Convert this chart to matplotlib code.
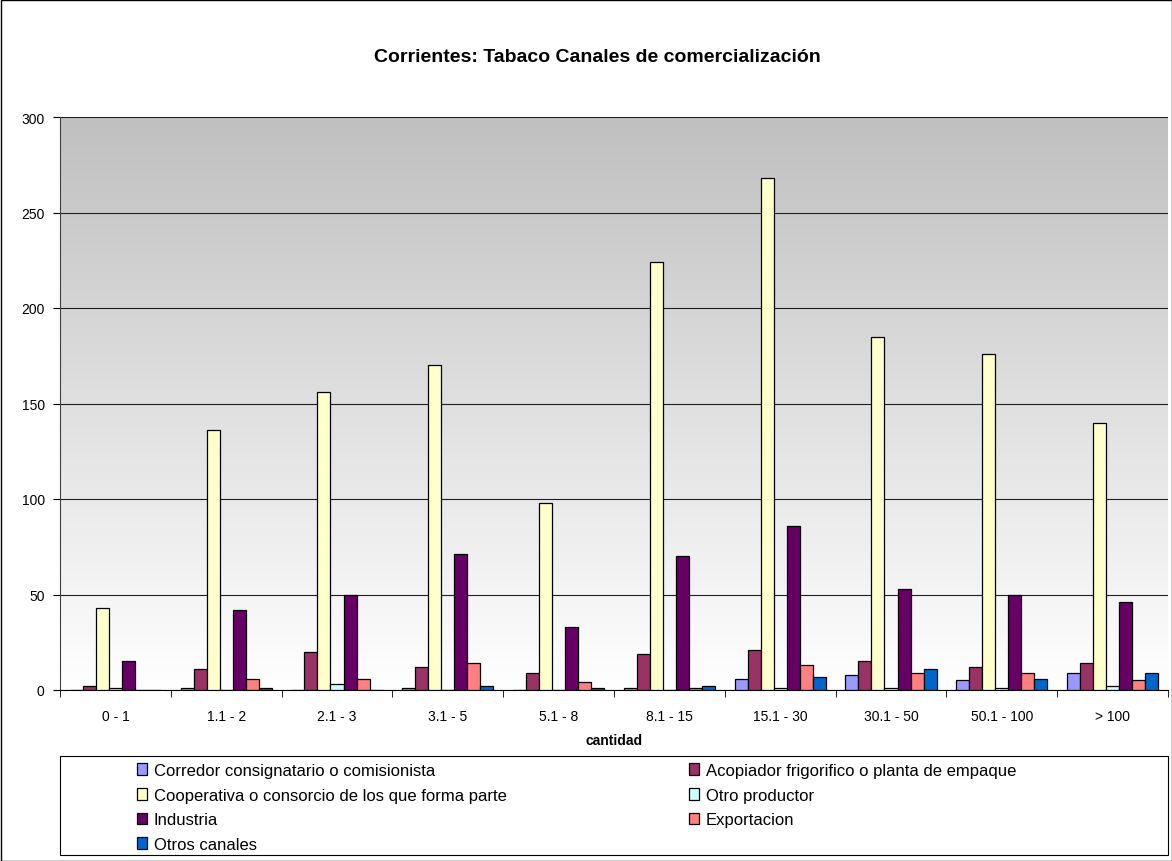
import numpy as np
import matplotlib
matplotlib.use("Agg")
import matplotlib.pyplot as plt
from matplotlib.patches import Rectangle

plt.rcParams['font.family'] = ['Liberation Sans', 'DejaVu Sans']

categories = ["0 - 1", "1.1 - 2", "2.1 - 3", "3.1 - 5", "5.1 - 8", "8.1 - 15",
              "15.1 - 30", "30.1 - 50", "50.1 - 100", "> 100"]

corredor = [0, 1, 0, 1, 0, 1, 6, 8, 5, 9]
acopiador = [2, 11, 20, 12, 9, 19, 21, 15, 12, 14]
cooperativa = [43, 136, 156, 170, 98, 224, 268, 185, 176, 140]
otro_productor = [1, 0, 3, 0, 0, 0, 1, 1, 1, 2]
industria = [15, 42, 50, 71, 33, 70, 86, 53, 50, 46]
exportacion = [0, 6, 6, 14, 4, 1, 13, 9, 9, 5]
otros_canales = [0, 1, 0, 2, 1, 2, 7, 11, 6, 9]

series_names = ["Corredor consignatario o comisionista",
                "Acopiador frigorifico o planta de empaque",
                "Cooperativa o consorcio de los que forma parte",
                "Otro productor",
                "Industria",
                "Exportacion",
                "Otros canales"]
series = [corredor, acopiador, cooperativa, otro_productor, industria, exportacion, otros_canales]
colors = ["#9999FF", "#993366", "#FFFFCC", "#CCFFFF", "#660066", "#FF8080", "#0066CC"]

W, H = 1172, 862
fig = plt.figure(figsize=(W / 100, H / 100), dpi=100)
ax = fig.add_axes([60 / W, 1 - 691 / H, 1108 / W, 573 / H])

# gradient background (grey at top -> white at bottom)
grad = np.linspace(0, 1, 256).reshape(-1, 1)
cmap = matplotlib.colors.LinearSegmentedColormap.from_list("bg", ["#ffffff", "#c0c0c0"])
ax.imshow(grad, aspect='auto', cmap=cmap, origin='lower',
          extent=[-0.5, len(categories) - 0.5, 0, 300], zorder=0)

n = len(series)
bw = 1 / 8.5
x = np.arange(len(categories))
handles = []
for i, (vals, name, col) in enumerate(zip(series, series_names, colors)):
    offs = (i - (n - 1) / 2) * bw
    b = ax.bar(x + offs, vals, width=bw, color=col, edgecolor='black', linewidth=0.9,
               label=name, zorder=3)
    handles.append(b)

ax.set_xlim(-0.5, len(categories) - 0.5)
ax.set_ylim(0, 300)
ax.set_yticks(np.arange(0, 301, 50))
ax.yaxis.grid(True, color='#202020', linewidth=0.8, zorder=1)
ax.set_axisbelow(True)
ax.set_xticks(x)
ax.set_xticklabels(categories, fontsize=10)
ax.set_xticks(np.arange(-0.5, len(categories), 1), minor=True)
ax.tick_params(axis='x', which='major', length=0, pad=14)
ax.tick_params(axis='x', which='minor', length=5, direction='out', color='black')
ax.tick_params(axis='y', labelsize=10, length=5, direction='out', pad=6)
for s in ['top', 'right']:
    ax.spines[s].set_visible(False)
ax.spines['left'].set_color('#404040')
ax.spines['bottom'].set_color('black')
ax.set_xlabel("cantidad", fontsize=10, fontweight='bold', labelpad=7)

fig.text(597 / W, 1 - 57 / H, "Corrientes: Tabaco Canales de comercialización",
         ha='center', va='center', fontsize=14, fontweight='bold')

# legend box
fig.patches.append(Rectangle((60 / W, 1 - 856 / H), 1108 / W, 99 / H,
                             transform=fig.transFigure, fill=False,
                             edgecolor='black', linewidth=0.8))
leg_kw = dict(loc='upper left', frameon=False, fontsize=12, handlelength=0.6,
              handleheight=0.7, handletextpad=0.4, labelspacing=0.58,
              borderpad=0, borderaxespad=0)
left_idx = [0, 2, 4, 6]
right_idx = [1, 3, 5]
leg1 = fig.legend([handles[i] for i in left_idx], [series_names[i] for i in left_idx],
                  bbox_to_anchor=(137 / W, 1 - 764 / H), **leg_kw)
leg2 = fig.legend([handles[i] for i in right_idx], [series_names[i] for i in right_idx],
                  bbox_to_anchor=(689 / W, 1 - 764 / H), **leg_kw)

# outer border
fig.patches.append(Rectangle((0.5 / W, 0.5 / H), 1 - 1 / W, 1 - 1 / H,
                             transform=fig.transFigure, fill=False,
                             edgecolor='black', linewidth=1))

fig.savefig("out.png", dpi=100)
